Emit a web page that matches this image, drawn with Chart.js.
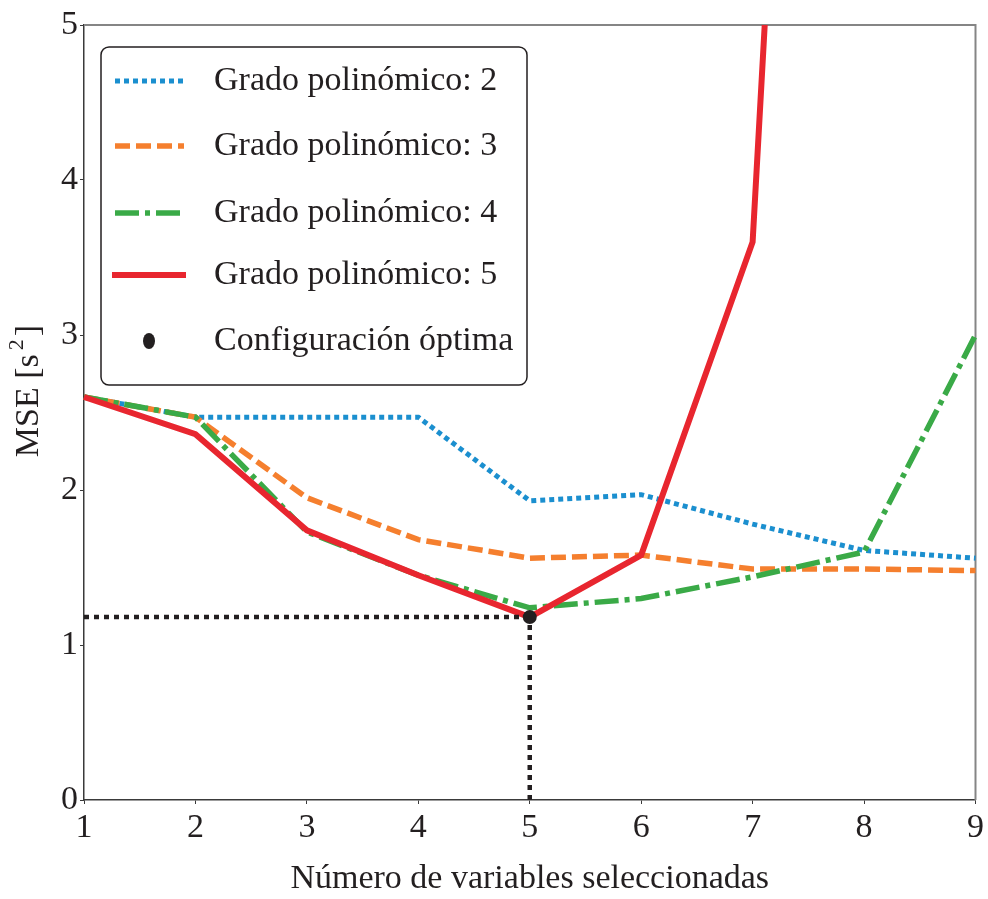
<!DOCTYPE html>
<html>
<head>
<meta charset="utf-8">
<script src="https://cdn.jsdelivr.net/npm/chart.js@4.4.1/dist/chart.umd.min.js"></script>
<style>
  html, body { margin: 0; padding: 0; background: #ffffff; }
  #wrap { width: 988px; height: 899px; }
</style>
</head>
<body>
<div id="wrap"><canvas id="c" width="988" height="899"></canvas></div>
<script>
// Number of selected variables
const numVars = [1, 2, 3, 4, 5, 6, 7, 8, 9];

// MSE per polynomial degree
const mseDeg2 = [2.60, 2.47, 2.47, 2.47, 1.93, 1.97, 1.78, 1.61, 1.56];
const mseDeg3 = [2.60, 2.47, 1.95, 1.68, 1.56, 1.58, 1.49, 1.49, 1.48];
const mseDeg4 = [2.60, 2.47, 1.73, 1.45, 1.24, 1.30, 1.44, 1.60, 3.00];
const mseDeg5 = [2.60, 2.36, 1.74, 1.45, 1.18, 1.58, 3.60, 16.5, null];

// Best configuration
const bestVars = 5;
const bestMse = 1.18;

const xTicks = [1, 2, 3, 4, 5, 6, 7, 8, 9];
const yTicks = [0, 1, 2, 3, 4, 5];

const legendLabels = [
  'Grado polinómico: 2',
  'Grado polinómico: 3',
  'Grado polinómico: 4',
  'Grado polinómico: 5',
  'Configuración óptima'
];

const SERIF = '"Liberation Serif", "Times New Roman", serif';
const TXT = '#231f20';

const toXY = (ys) => numVars.map((x, i) => ({ x: x, y: ys[i] }));

const lineBase = {
  fill: false,
  pointRadius: 0,
  pointHoverRadius: 0,
  tension: 0,
  borderCapStyle: 'butt',
  borderJoinStyle: 'miter',
  clip: { left: 6, right: 6, top: 0, bottom: 6 }
};

const datasets = [
  Object.assign({}, lineBase, {
    label: legendLabels[0], data: toXY(mseDeg2),
    borderColor: '#1b8fcf', borderWidth: 5, borderDash: [5, 4], order: 5
  }),
  Object.assign({}, lineBase, {
    label: legendLabels[1], data: toXY(mseDeg3),
    borderColor: '#f57f2e', borderWidth: 5.5, borderDash: [15, 6], order: 4
  }),
  Object.assign({}, lineBase, {
    label: legendLabels[2], data: toXY(mseDeg4),
    borderColor: '#3aaa47', borderWidth: 5.5, borderDash: [24, 6, 5, 6], order: 3
  }),
  Object.assign({}, lineBase, {
    label: legendLabels[3], data: toXY(mseDeg5),
    borderColor: '#e8262f', borderWidth: 6, order: 2
  }),
  // guide lines to the best configuration
  Object.assign({}, lineBase, {
    label: 'guideH', data: [{ x: numVars[0], y: bestMse }, { x: bestVars, y: bestMse }],
    borderColor: '#231f20', borderWidth: 4.5, borderDash: [5, 5], order: 1
  }),
  Object.assign({}, lineBase, {
    label: 'guideV', data: [{ x: bestVars, y: 0 }, { x: bestVars, y: bestMse }],
    borderColor: '#231f20', borderWidth: 4.5, borderDash: [5, 5], order: 1
  }),
  {
    type: 'scatter',
    label: legendLabels[4],
    data: [{ x: bestVars, y: bestMse }],
    pointStyle: 'circle',
    pointRadius: 7,
    pointHoverRadius: 7,
    backgroundColor: '#231f20',
    borderColor: '#231f20',
    borderWidth: 0,
    clip: false,
    order: 0
  }
];

// Frame: top and right edges in gray
const framePlugin = {
  id: 'frame',
  beforeDatasetsDraw(chart) {
    const { ctx, chartArea: a } = chart;
    ctx.save();
    ctx.strokeStyle = '#858585';
    ctx.lineWidth = 2;
    ctx.beginPath();
    ctx.moveTo(a.left, a.top);
    ctx.lineTo(a.right, a.top);
    ctx.lineTo(a.right, a.bottom);
    ctx.stroke();
    ctx.restore();
  }
};

// Y axis title with a superscript unit: MSE [s²]
const yTitlePlugin = {
  id: 'yTitle',
  afterDraw(chart) {
    const { ctx } = chart;
    const main = '34px ' + SERIF;
    const sup = '22px ' + SERIF;
    const parts = [
      { t: 'MSE [s', f: main, dy: 0, gap: 4 },
      { t: '2', f: sup, dy: -15, gap: 3 },
      { t: ']', f: main, dy: 0, gap: 0 }
    ];
    ctx.save();
    let total = 0;
    parts.forEach(p => { ctx.font = p.f; p.w = ctx.measureText(p.t).width; total += p.w + p.gap; });
    ctx.translate(38, 391);
    ctx.rotate(-Math.PI / 2);
    ctx.fillStyle = TXT;
    ctx.textBaseline = 'alphabetic';
    ctx.textAlign = 'left';
    let x = -total / 2;
    parts.forEach(p => {
      ctx.font = p.f;
      ctx.fillText(p.t, x, p.dy);
      x += p.w + p.gap;
    });
    ctx.restore();
  }
};

// Boxed legend inside the plot area
const legendBoxPlugin = {
  id: 'legendBox',
  afterDraw(chart) {
    const { ctx } = chart;
    const bx = 101, by = 47, bw = 426, bh = 338, r = 8;
    ctx.save();
    ctx.beginPath();
    ctx.moveTo(bx + r, by);
    ctx.arcTo(bx + bw, by, bx + bw, by + bh, r);
    ctx.arcTo(bx + bw, by + bh, bx, by + bh, r);
    ctx.arcTo(bx, by + bh, bx, by, r);
    ctx.arcTo(bx, by, bx + bw, by, r);
    ctx.closePath();
    ctx.fillStyle = 'rgba(255,255,255,0.9)';
    ctx.fill();
    ctx.strokeStyle = '#231f20';
    ctx.lineWidth = 1.5;
    ctx.stroke();

    const rows = [81, 146, 213, 275, 341];
    const ds = chart.data.datasets;
    const entries = [ds[0], ds[1], ds[2], ds[3], ds[6]];
    entries.forEach((d, i) => {
      const y = rows[i];
      if (d.type === 'scatter') {
        ctx.beginPath();
        ctx.ellipse(149, y, 6, 8, 0, 0, Math.PI * 2);
        ctx.fillStyle = d.backgroundColor;
        ctx.fill();
      } else {
        ctx.beginPath();
        ctx.setLineDash(d.borderDash || []);
        ctx.lineCap = 'butt';
        ctx.strokeStyle = d.borderColor;
        ctx.lineWidth = d.borderWidth;
        ctx.moveTo(i === 3 ? 112 : 115, y);
        ctx.lineTo(i === 3 ? 186 : 184, y);
        ctx.stroke();
        ctx.setLineDash([]);
      }
      ctx.fillStyle = TXT;
      ctx.font = '34px ' + SERIF;
      ctx.textBaseline = 'middle';
      ctx.textAlign = 'left';
      ctx.fillText(d.label, 214, y);
    });
    ctx.restore();
  }
};

new Chart(document.getElementById('c'), {
  type: 'line',
  data: { datasets: datasets },
  options: {
    responsive: false,
    animation: false,
    devicePixelRatio: 1,
    layout: { padding: { top: 25, right: 12, left: 0, bottom: 0 } },
    plugins: {
      legend: { display: false },
      tooltip: { enabled: false }
    },
    scales: {
      x: {
        type: 'linear',
        min: 1, max: 9,
        afterBuildTicks(scale) { scale.ticks = xTicks.map(v => ({ value: v })); },
        afterFit(scale) { scale.height = 99; },
        border: { display: true, color: '#3a3a3a', width: 1.5 },
        grid: { drawOnChartArea: false, drawTicks: true, tickLength: 4, color: '#3a3a3a', lineWidth: 1 },
        ticks: {
          color: TXT, padding: 4,
          font: { family: SERIF, size: 34 },
          maxRotation: 0,
          callback: (v) => String(v)
        },
        title: {
          display: true,
          text: 'Número de variables seleccionadas',
          color: TXT,
          font: { family: SERIF, size: 34 },
          padding: { top: 10, bottom: 0 }
        }
      },
      y: {
        type: 'linear',
        min: 0, max: 5,
        afterBuildTicks(scale) { scale.ticks = yTicks.map(v => ({ value: v })); },
        afterFit(scale) { scale.width = 84; },
        border: { display: true, color: '#3a3a3a', width: 1.5 },
        grid: { drawOnChartArea: false, drawTicks: true, tickLength: 4, color: '#3a3a3a', lineWidth: 1 },
        ticks: {
          color: TXT, padding: 2,
          font: { family: SERIF, size: 34 },
          callback: (v) => String(v)
        }
      }
    }
  },
  plugins: [framePlugin, legendBoxPlugin, yTitlePlugin]
});
</script>
</body>
</html>
